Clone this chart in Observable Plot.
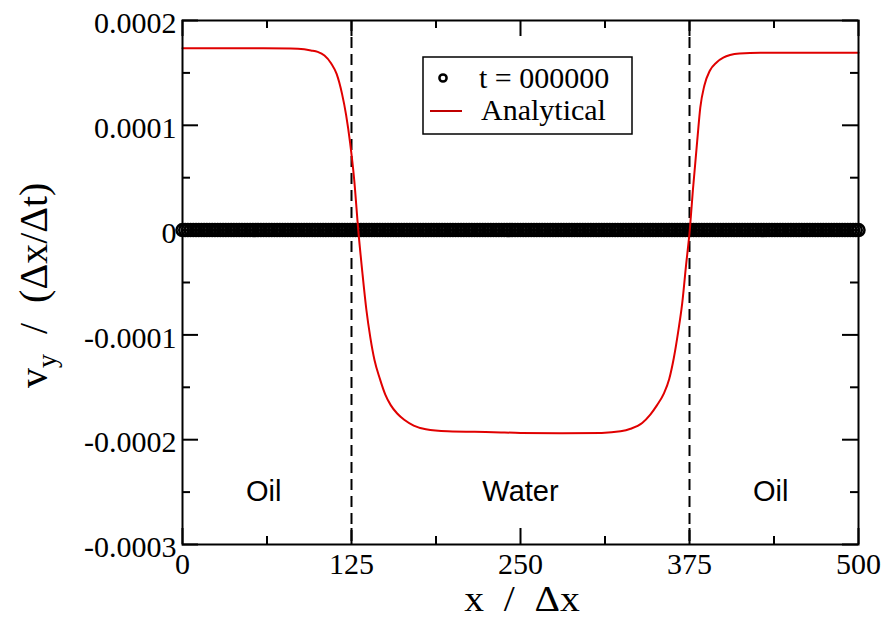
<!DOCTYPE html>
<html><head><meta charset="utf-8">
<script src="https://cdn.jsdelivr.net/npm/d3@7"></script>
<script src="https://cdn.jsdelivr.net/npm/@observablehq/plot@0.6"></script>
<style>body{margin:0;background:#fff}#chart svg{display:block}</style>
</head><body><div id="chart"></div>
<script>
// Analytical solution
const analyticX = [0, 20, 40, 60, 80, 90, 95, 100, 105, 110, 114, 118, 121, 124, 127, 130, 133, 136, 139, 142, 146, 150, 154, 158.8, 164, 171, 180, 196, 230, 250, 280, 310, 324, 331.4, 340, 346, 351, 356, 360, 363.4, 366.5, 369.6, 372.5, 375.2, 377.5, 380.7, 383, 386, 390, 395, 400, 405, 412, 427.5, 450, 500];
const analyticVy = [1.736e-4, 1.736e-4, 1.736e-4, 1.735e-4, 1.733e-4, 1.725e-4, 1.714e-4, 1.700e-4, 1.665e-4, 1.59e-4, 1.49e-4, 1.30e-4, 1.10e-4, 0.83e-4, 0.48e-4, 0, -0.40e-4, -0.76e-4, -1.03e-4, -1.24e-4, -1.42e-4, -1.57e-4, -1.67e-4, -1.75e-4, -1.81e-4, -1.865e-4, -1.90e-4, -1.92e-4, -1.928e-4, -1.935e-4, -1.938e-4, -1.935e-4, -1.92e-4, -1.896e-4, -1.84e-4, -1.76e-4, -1.67e-4, -1.56e-4, -1.42e-4, -1.22e-4, -0.98e-4, -0.70e-4, -0.33e-4, 0, 0.38e-4, 0.85e-4, 1.17e-4, 1.38e-4, 1.52e-4, 1.60e-4, 1.645e-4, 1.67e-4, 1.685e-4, 1.692e-4, 1.692e-4, 1.692e-4];
// Simulation at t = 000000: every lattice node has zero velocity
const simX = d3.range(0, 501, 2);
const simVy = simX.map(() => 0);
// Interfaces
const interfaceX = [125, 375];
// Region labels
const regionLabels = ["Oil", "Water", "Oil"];
const regionX = [60, 250, 435];
const regionVy = [-0.00025, -0.00025, -0.00025];
// Ticks
const xMajor = [0, 125, 250, 375, 500];
const xMinor = [62.5, 187.5, 312.5, 437.5];
const yMajor = [-0.0003, -0.0002, -0.0001, 0, 0.0001, 0.0002];
const yMinor = [-0.00025, -0.00015, -0.00005, 0.00005, 0.00015];
const yTickLabels = ["-0.0003", "-0.0002", "-0.0001", "0", "0.0001", "0.0002"];
const legendLabels = ["t = 000000", "Analytical"];

const analytic = analyticX.map((x, i) => ({x, y: analyticVy[i]}));
const sim = simX.map((x, i) => ({x, y: simVy[i]}));
const regions = regionLabels.map((t, i) => ({t, x: regionX[i], y: regionVy[i]}));

const W = 895, H = 618, mL = 182, mR = 37, mT = 20, mB = 74;
const pw = W - mL - mR, ph = H - mT - mB;
const serif = "'Liberation Serif', 'Times New Roman', serif";
const sans = "'Liberation Sans', Arial, sans-serif";
const red = "#e00000";
const major = 16, minor = 8;

const chart = Plot.plot({
  width: W, height: H,
  marginLeft: mL, marginRight: mR, marginTop: mT, marginBottom: mB,
  style: {background: "white", overflow: "visible", color: "black"},
  x: {domain: [0, 500]},
  y: {domain: [-0.0003, 0.0002]},
  marks: [
    Plot.axisX(xMajor, {tickSize: 0, tickPadding: 8, fontSize: 30, tickFormat: d => String(d), label: null}),
    Plot.axisY(yMajor, {tickSize: 0, tickPadding: 6, fontSize: 30, dy: 3, tickFormat: d => yTickLabels[yMajor.indexOf(d)], label: null}),
    Plot.dot(sim, {x: "x", y: "y", r: 6, stroke: "black", strokeWidth: 2.5, fill: "none"}),
    Plot.ruleX(interfaceX, {stroke: "black", strokeWidth: 2, strokeDasharray: "11,6"}),
    Plot.line(analytic, {x: "x", y: "y", stroke: red, strokeWidth: 2, curve: "monotone-x"}),
    // inward ticks on all four sides
    Plot.tickY(yMajor, {y: d => d, insetRight: pw - major, strokeWidth: 2}),
    Plot.tickY(yMinor, {y: d => d, insetRight: pw - minor, strokeWidth: 2}),
    Plot.tickY(yMajor, {y: d => d, insetLeft: pw - major, strokeWidth: 2}),
    Plot.tickY(yMinor, {y: d => d, insetLeft: pw - minor, strokeWidth: 2}),
    Plot.tickX(xMajor, {x: d => d, insetTop: ph - major, strokeWidth: 2}),
    Plot.tickX(xMinor, {x: d => d, insetTop: ph - minor, strokeWidth: 2}),
    Plot.tickX(xMajor, {x: d => d, insetBottom: ph - major, strokeWidth: 2}),
    Plot.tickX(xMinor, {x: d => d, insetBottom: ph - minor, strokeWidth: 2}),
    Plot.text(regions, {x: "x", y: "y", text: "t", fontSize: 29, fill: "black", lineAnchor: "middle"}),
    Plot.frame({stroke: "black", strokeWidth: 2})
  ]
});

const svg = d3.select(chart);
// fonts: serif everywhere except region labels
svg.selectAll("text").each(function() {
  const isRegion = regionLabels.includes(this.textContent);
  d3.select(this).style("font-family", isRegion ? sans : serif);
});
// y axis title with subscript
const yt = svg.append("text")
  .attr("transform", "translate(47,388) rotate(-90)")
  .style("text-anchor", "start")
  .style("font-family", serif).style("font-size", "40px").attr("fill", "black");
yt.append("tspan").text("v");
yt.append("tspan").style("font-size", "28px").attr("dy", 9).text("y");
yt.append("tspan").attr("dy", -9).text("\u00a0\u00a0/\u00a0\u00a0(\u0394x/\u0394t)");
// x axis title
svg.append("text")
  .attr("transform", "translate(522,611) scale(1.1,1)").style("text-anchor", "middle")
  .style("font-family", serif).style("font-size", "36px").attr("fill", "black")
  .text("x\u00a0\u00a0/\u00a0\u00a0\u0394x");
// legend
const lg = svg.append("g");
lg.append("rect").attr("x", 423).attr("y", 57).attr("width", 209).attr("height", 77)
  .attr("fill", "white").attr("stroke", "black").attr("stroke-width", 1.5);
lg.append("circle").attr("cx", 443).attr("cy", 78).attr("r", 3.6)
  .attr("fill", "none").attr("stroke", "black").attr("stroke-width", 2.5);
lg.append("line").attr("x1", 430).attr("x2", 462).attr("y1", 111).attr("y2", 111)
  .attr("stroke", "#c00000").attr("stroke-width", 2);
lg.append("text").attr("x", 479).attr("y", 88).style("text-anchor", "start").style("font-family", serif).style("font-size", "30px").attr("fill", "black").text(legendLabels[0]);
lg.append("text").attr("x", 481).attr("y", 120).style("text-anchor", "start").style("font-family", serif).style("font-size", "30px").attr("fill", "black").text(legendLabels[1]);

document.getElementById("chart").append(chart);
</script>
</body></html>
